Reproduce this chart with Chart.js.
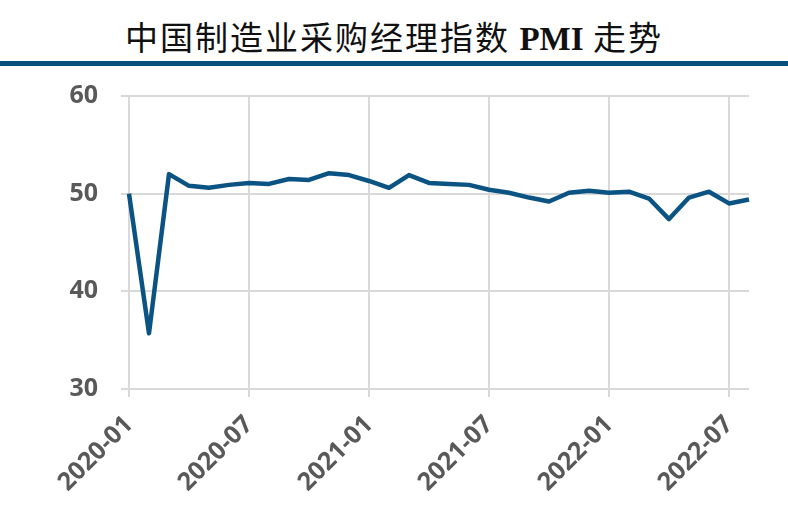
<!DOCTYPE html>
<html>
<head>
<meta charset="utf-8">
<script src="https://cdn.jsdelivr.net/npm/chart.js@4.4.0/dist/chart.umd.min.js"></script>
<style>
  html, body { margin: 0; padding: 0; background: #fff; }
  #wrap { position: relative; width: 788px; height: 508px; overflow: hidden; }
  #title {
    position: absolute; left: 0; top: 14px; width: 788px; text-align: center;
    font-family: "Noto Sans CJK SC", sans-serif; font-size: 33px; color: #111;
    line-height: 44px; letter-spacing: 2px;
  }
  #title b { font-family: "Liberation Serif", serif; font-weight: bold; letter-spacing: 0; }
  #rule { position: absolute; left: 0; top: 61px; width: 788px; height: 5px; background: #0b4f7c; }
  #c { position: absolute; left: 0; top: 0; }
</style>
</head>
<body>
<div id="wrap">
  <div id="title">中国制造业采购经理指数 <b>PMI</b> 走势</div>
  <div id="rule"></div>
  <canvas id="c" width="788" height="508"></canvas>
</div>
<script>
// month labels 2020-01 .. 2022-08
const months = [
  '2020-01','2020-02','2020-03','2020-04','2020-05','2020-06','2020-07','2020-08','2020-09','2020-10','2020-11','2020-12',
  '2021-01','2021-02','2021-03','2021-04','2021-05','2021-06','2021-07','2021-08','2021-09','2021-10','2021-11','2021-12',
  '2022-01','2022-02','2022-03','2022-04','2022-05','2022-06','2022-07','2022-08'
]
const pmi = [
  50.0, 35.7, 52.0, 50.8, 50.6, 50.9, 51.1, 51.0, 51.5, 51.4, 52.1, 51.9,
  51.3, 50.6, 51.9, 51.1, 51.0, 50.9, 50.4, 50.1, 49.6, 49.2, 50.1, 50.3,
  50.1, 50.2, 49.5, 47.4, 49.6, 50.2, 49.0, 49.4
]
const yTicks = [30, 40, 50, 60]

var tickFont = { family: 'Open Sans', size: 25, weight: 'bold' }
var gray = '#595959'
var gridColor = '#d9d9d9'

var ctx = document.getElementById('c').getContext('2d')
var chart = new Chart(ctx, {
  type: 'line',
  data: {
    labels: months,
    datasets: [{
      data: pmi,
      borderColor: '#0b5383',
      borderWidth: 4.5,
      pointRadius: 0,
      tension: 0,
      borderJoinStyle: 'round'
    }]
  },
  options: {
    responsive: false,
    animation: false,
    layout: { padding: { top: 96, right: 39, left: 0, bottom: 0 } },
    plugins: { legend: { display: false }, tooltip: { enabled: false } },
    scales: {
      x: {
        offset: false,
        border: { display: false },
        grid: { color: gridColor, lineWidth: 2, tickLength: 8 },
        ticks: {
          autoSkip: false,
          maxRotation: 45,
          minRotation: 45,
          padding: 13,
          color: gray,
          font: tickFont,
          callback: function (v, i) { return i % 6 === 0 ? months[i] : null }
        },
        afterFit: function (s) { s.height = 508 - 389 }
      },
      y: {
        min: yTicks[0],
        max: yTicks[yTicks.length - 1],
        border: { display: false },
        grid: { color: gridColor, lineWidth: 2, tickLength: 8 },
        ticks: {
          stepSize: 10,
          padding: 23,
          color: gray,
          font: tickFont
        },
        afterFit: function (s) { s.width = 129 }
      }
    }
  }
})
</script>
</body>
</html>
